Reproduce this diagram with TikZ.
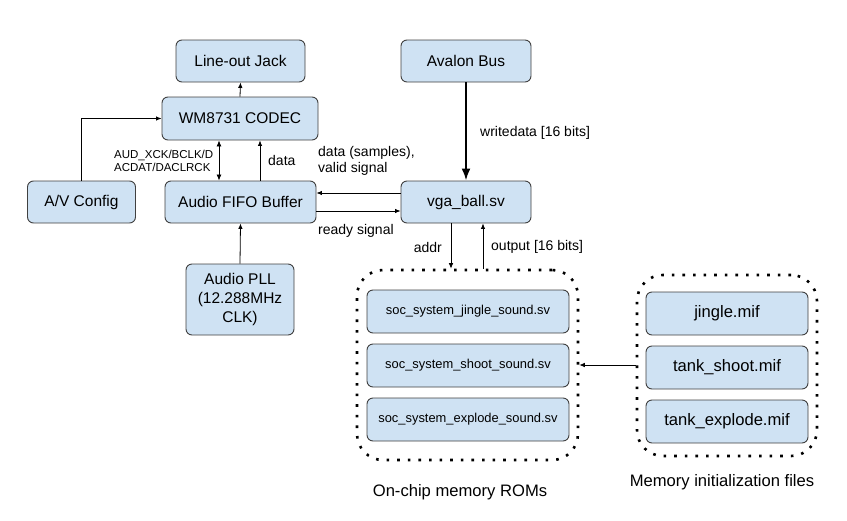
\documentclass[tikz,border=0pt]{standalone}
\usepackage{fontspec}
\setmainfont{Liberation Sans}
\usetikzlibrary{arrows.meta}
\definecolor{boxblue}{HTML}{CFE2F3}
\definecolor{edge}{HTML}{404040}
\tikzset{
  blk/.style={draw=edge, fill=boxblue, rounded corners=6pt, line width=0.9pt,
    align=center, inner sep=0pt, font=\fontsize{15.5}{19}\selectfont},
  romblk/.style={blk, minimum width=202pt, minimum height=43pt, font=\fontsize{12.9}{15}\selectfont},
  mifblk/.style={blk, minimum width=162pt, minimum height=43pt, font=\fontsize{16.6}{19}\selectfont},
  container/.style={draw=black, line width=2.6pt, dash pattern=on 2.6pt off 8pt, rounded corners=26pt, inner sep=0pt},
  lbl/.style={inner sep=0pt, font=\fontsize{14}{16}\selectfont, align=left},
  conn/.style={draw=black, line width=0.8pt, -{Latex[length=5.5pt,width=4.5pt]}},
  conn2/.style={draw=black, line width=0.8pt, {Latex[length=6pt,width=5pt]}-{Latex[length=6pt,width=5pt]}},
  thickconn/.style={draw=black, line width=2.2pt, -{Latex[length=12pt,width=9pt]}}
}
\begin{document}
\begin{tikzpicture}[x=1pt,y=-1pt]
\useasboundingbox (0,0) rectangle (847,520);
% main blocks
\node[blk, minimum width=129pt, minimum height=42pt] (jack) at (240.5,61) {Line-out Jack};
\node[blk, minimum width=156pt, minimum height=43pt] (codec) at (240,118.5) {WM8731 CODEC};
\node[blk, minimum width=108pt, minimum height=42pt] (av) at (81.5,202) {A/V Config};
\node[blk, minimum width=151pt, minimum height=42pt] (fifo) at (240.5,202) {Audio FIFO Buffer};
\node[blk, minimum width=130pt, minimum height=42pt] (avalon) at (466,61) {Avalon Bus};
\node[blk, minimum width=130pt, minimum height=42pt] (vga) at (466,202) {vga\_ball.sv};
\node[blk, minimum width=108pt, minimum height=71pt] (pll) at (240,299.5) {Audio PLL\\(12.288MHz\\CLK)};
% containers
\node[container, minimum width=221pt, minimum height=190pt] (romc) at (467.5,365) {};
\node[container, minimum width=180pt, minimum height=181pt] (mifc) at (727,365.5) {};
\node[romblk] (rom1) at (468,311.5) {soc\_system\_jingle\_sound.sv};
\node[romblk] (rom2) at (468,365.5) {soc\_system\_shoot\_sound.sv};
\node[romblk] (rom3) at (468,419.5) {soc\_system\_explode\_sound.sv};
\node[mifblk] (mif1) at (727,313.5) {jingle.mif};
\node[mifblk] (mif2) at (727,367.5) {tank\_shoot.mif};
\node[mifblk] (mif3) at (727,421.5) {tank\_explode.mif};
\node[inner sep=0pt, font=\fontsize{16.6}{19}\selectfont] (romlbl) at (460,492) {On-chip memory ROMs};
\node[inner sep=0pt, font=\fontsize{16.6}{19}\selectfont] (miflbl) at (722,482) {Memory initialization files};
% helper coordinates
\coordinate (xd) at (219,0);
\coordinate (xdata) at (260,0);
\coordinate (ytop) at (0,193);
\coordinate (ybot) at (0,211);
\coordinate (xaddr) at (451,0);
\coordinate (xout) at (483,0);
\coordinate (ymif) at (0,365);
% connectors
\draw[conn] (codec.north) -- (jack.south);
\draw[conn] (av.north) |- (codec.west);
\draw[conn2] (fifo.north -| xd) -- (codec.south -| xd);
\draw[conn] (fifo.north -| xdata) -- (codec.south -| xdata);
\draw[conn] (vga.west |- ytop) -- (fifo.east |- ytop);
\draw[conn] (fifo.east |- ybot) -- (vga.west |- ybot);
\draw[thickconn] (avalon.south) -- (vga.north);
\draw[conn] (vga.south -| xaddr) -- (romc.north -| xaddr);
\draw[conn] (romc.north -| xout) -- (vga.south -| xout);
\draw[conn] (pll.north) -- (fifo.south);
\draw[conn] (mifc.west |- ymif) -- (romc.east |- ymif);
% labels
\node[lbl, anchor=west, align=left, font=\fontsize{11.5}{13}\selectfont] (audlbl) at (114,160.5) {AUD\_XCK/BCLK/D\\ACDAT/DACLRCK};
\node[lbl, anchor=west] (datalbl) at (268,160) {data};
\node[lbl, anchor=west] (samplbl) at (318,161) {data (samples),\\valid signal};
\node[lbl, anchor=west] (readylbl) at (318,231) {ready signal};
\node[lbl, anchor=west] (wdlbl) at (480,133) {writedata [16 bits]};
\node[lbl, anchor=east] (addrlbl) at (442,247) {addr};
\node[lbl, anchor=west] (outlbl) at (491,247) {output [16 bits]};
\end{tikzpicture}
\end{document}
